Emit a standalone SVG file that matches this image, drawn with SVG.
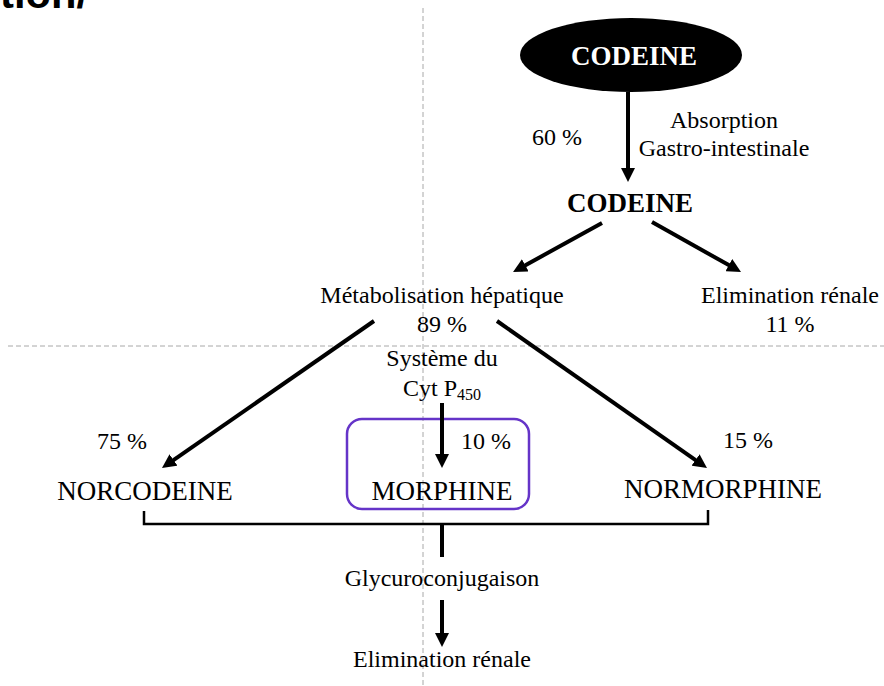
<svg xmlns="http://www.w3.org/2000/svg" width="884" height="686" viewBox="0 0 884 686">
<style>
  .t { font-family: "Liberation Serif", "Times New Roman", serif; font-size: 24px; fill: #000; }
  .caps { font-size: 27px; }
  .b { font-weight: bold; font-size: 27px; }
  .c { text-anchor: middle; }
  .arrow { stroke: #000; stroke-width: 4; fill: none; marker-end: url(#ah); }
  .guide { stroke: #a8a8a8; stroke-width: 1; stroke-dasharray: 5 3; fill: none; }
</style>
<defs>
  <marker id="ah" markerUnits="userSpaceOnUse" markerWidth="14" markerHeight="14" viewBox="0 0 14 14" refX="4" refY="7" orient="auto">
    <path d="M0,0 L14,7 L0,14 z" fill="#000"/>
  </marker>
</defs>
<rect width="884" height="686" fill="#fff"/>
<text x="0" y="8" font-family="'Liberation Sans', Arial, sans-serif" font-weight="bold" font-size="40" textLength="88" lengthAdjust="spacingAndGlyphs">tion/</text>
<g id="guides">
  <line class="guide" x1="423" y1="8" x2="423" y2="686"/>
  <line class="guide" x1="8" y1="346" x2="884" y2="346"/>
</g>
<g id="codeine-oral">
  <ellipse cx="631" cy="55" rx="111" ry="37" fill="#000"/>
  <text class="t b c" x="634" y="65" fill="#fff" style="fill:#fff">CODEINE</text>
</g>
<g id="absorption-label">
  <text class="t" x="532" y="145">60 %</text>
  <text class="t c" x="724" y="128">Absorption</text>
  <text class="t c" x="724" y="156">Gastro-intestinale</text>
</g>
<g id="codeine">
  <text class="t b c" x="630" y="212">CODEINE</text>
</g>
<g id="metabolisation">
  <text class="t c" x="442" y="303">Métabolisation hépatique</text>
  <text class="t c" x="442" y="332">89 %</text>
</g>
<g id="elimination-renale-1">
  <text class="t c" x="790" y="303">Elimination rénale</text>
  <text class="t c" x="790" y="332">11 %</text>
</g>
<g id="cyp450">
  <text class="t c" x="442" y="366">Système du</text>
  <text class="t c" x="442" y="396">Cyt P<tspan font-size="16" dy="4">450</tspan></text>
</g>
<g id="norcodeine">
  <text class="t" x="147" y="449" text-anchor="end">75 %</text>
  <text class="t caps c" x="145" y="500">NORCODEINE</text>
</g>
<g id="morphine">
  <rect x="347" y="419" width="182" height="90" rx="15" ry="15" fill="none" stroke="#6534c8" stroke-width="2.5"/>
  <text class="t" x="461" y="449">10 %</text>
  <text class="t caps c" x="442" y="500">MORPHINE</text>
</g>
<g id="normorphine">
  <text class="t" x="723" y="448">15 %</text>
  <text class="t caps c" x="723" y="498">NORMORPHINE</text>
</g>
<g id="glycuroconjugaison">
  <text class="t c" x="442" y="586">Glycuroconjugaison</text>
</g>
<g id="elimination-renale-2">
  <text class="t c" x="442" y="667">Elimination rénale</text>
</g>
<g id="connectors">
  <line class="arrow" x1="628" y1="92" x2="628" y2="172"/>
  <line class="arrow" x1="602" y1="223" x2="521.8" y2="267.2"/>
  <line class="arrow" x1="652" y1="222" x2="732.3" y2="267.1"/>
  <line class="arrow" x1="374" y1="321" x2="170.2" y2="462.3"/>
  <line class="arrow" x1="497" y1="321" x2="698.8" y2="462.3"/>
  <line class="arrow" x1="442" y1="403" x2="442" y2="458"/>
  <path d="M144,511 V524 H708 V510" fill="none" stroke="#000" stroke-width="2.5"/>
  <line x1="442" y1="524" x2="442" y2="557" stroke="#000" stroke-width="4"/>
  <line class="arrow" x1="442" y1="600" x2="442" y2="637"/>
</g>
</svg>
